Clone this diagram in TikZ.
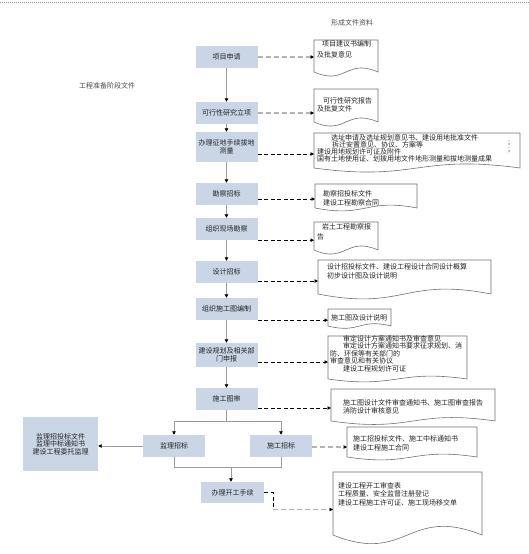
\documentclass[tikz,border=0pt]{standalone}
\usepackage{fontspec}
\setmainfont{Noto Sans CJK SC}
\usetikzlibrary{arrows.meta,calc}
\definecolor{boxfill}{RGB}{202,214,230}
\definecolor{lineg}{RGB}{155,155,155}
\definecolor{dashg}{RGB}{180,180,180}
\definecolor{txt}{RGB}{35,35,35}
\newcommand\fsl[1]{\fontsize{7}{#1}\selectfont}
\newcommand\docshape[6]{%
  \node[docnode, anchor=north west, minimum width={#4-#2}, minimum height={#5-#3}] (#1) at (#2,#3) {};
  \draw[docline] (#1.north west) -- (#1.north east) -- (#1.south east)
    .. controls ($(#1.south)+(0,-#6)$) and ($(#1.south)+(0,#6)$) .. (#1.south west) -- cycle;
}
\tikzset{
  stepbox/.style={fill=boxfill, draw=none, minimum width=62pt, minimum height=22pt, inner sep=0pt, align=center, text=txt, font=\fsl{8}},
  docnode/.style={draw=none, inner sep=0pt, outer sep=0pt},
  docline/.style={draw=black!55, line width=0.6pt},
  textn/.style={anchor=north west, inner sep=0pt, align=left, text=txt},
  lbl/.style={inner sep=0pt, text=black!70, font=\fsl{8}},
  tipb/.style={-{Triangle[length=3.5pt,width=3.5pt,color=black]}},
  solidc/.style={draw=lineg, line width=0.8pt},
  bdash/.style={draw=black, line width=1pt, dash pattern=on 4pt off 2.5pt},
  gdash/.style={draw=dashg, line width=1.4pt, dash pattern=on 5pt off 3pt},
}
\begin{document}
\begin{tikzpicture}[x=1pt,y=-1pt]
\fill[white] (0,0) rectangle (529,554);
\useasboundingbox (0,0) rectangle (529,554);
\draw[black!40, line width=1pt, dash pattern=on 1pt off 1pt] (0,2.5) -- (529,2.5);

\node[lbl] (t1) at (352,23) {形成文件资料};
\node[lbl] (t2) at (107,86) {工程准备阶段文件};

% main boxes
\node[stepbox] (b1) at (226.5,57) {项目申请};
\node[stepbox] (b2) at (226.5,113) {可行性研究立项};
\node[stepbox, minimum height=30pt] (b3) at (226.5,147) {办理征地手续拔地\\测量};
\node[stepbox] (b4) at (226.5,194) {勘察招标};
\node[stepbox] (b5) at (226.5,229) {组织现场勘察};
\node[stepbox] (b6) at (226.5,272) {设计招标};
\node[stepbox] (b7) at (226.5,309) {组织施工图编制};
\node[stepbox, minimum height=24pt] (b8) at (226.5,355) {建设规划及相关部\\门申报};
\node[stepbox] (b9) at (226.5,399) {施工图审};
\node[stepbox] (b10) at (174,446) {监理招标};
\node[stepbox] (b11) at (281,446) {施工招标};
\node[stepbox, minimum width=75pt, minimum height=54pt, font=\fsl{7.6}] (b12) at (60.5,444) {监理招投标文件\\监理中标通知书\\建设工程委托监理};
\node[stepbox, minimum width=63pt, minimum height=21pt] (b13) at (232.5,492.5) {办理开工手续};

% documents
\docshape{d1}{314}{40}{378}{72}{14}
\docshape{d2}{314}{89}{378}{122}{14}
\docshape{d3}{314}{133}{520}{168}{14}
\docshape{d4}{315}{184}{417}{208}{10}
\docshape{d5}{314}{222}{378}{250}{14}
\docshape{d6}{318}{260}{491}{294}{17}
\docshape{d7}{328}{309}{391}{326}{8}
\docshape{d8}{328}{336}{467}{379}{10}
\docshape{d9}{331}{389}{495}{421}{12}
\docshape{d10}{347}{427}{477}{457}{10}
\docshape{d11}{333}{472}{482}{535}{30}

\node[textn, font=\fsl{11}] (dt1) at (317,40) {\hspace*{5pt}项目建议书编制\\及批复意见};
\node[textn, font=\fsl{8}] (dt2) at (317,97) {\hspace*{6pt}可行性研究报告\\及批复文件};
\node[textn, font=\fsl{7}] (dt3) at (317,134) {\hspace*{14pt}选址申请及选址规划意见书、建设用地批准文件\\\hspace*{15pt}拆迁安置意见、协议、方案等\\建设用地规划许可证及附件\\国有土地使用证、划拨用地文件地形测量和拔地测量成果};
\node[textn, font=\fsl{7}] (dt3b) at (508,141) {;\\;};
\node[textn, font=\fsl{9}] (dt4) at (323,190) {勘察招投标文件\\建设工程勘察合同};
\node[textn, font=\fsl{10}] (dt5) at (317,223) {\hspace*{5pt}岩土工程勘察报\\告};
\node[textn, font=\fsl{9}] (dt6) at (327,263) {设计招投标文件、建设工程设计合同设计概算\\初步设计图及设计说明};
\node[textn, font=\fsl{8}] (dt7) at (331,314) {施工图及设计说明};
\node[textn, font=\fsl{7.5}] (dt8) at (330,335) {\hspace*{13pt}审定设计方案通知书及审查意见\\\hspace*{13pt}审定设计方案通知书要求征求规划、消\\防、环保等有关部门的\\审查意见和有关协议\\\hspace*{13pt}建设工程规划许可证};
\node[textn, font=\fsl{8}] (dt9) at (343,399) {施工图设计文件审查通知书、施工图审查报告\\消防设计审核意见};
\node[textn, font=\fsl{9}] (dt10) at (353,435) {施工招投标文件、施工中标通知书\\建设工程施工合同};
\node[textn, font=\fsl{8.5}] (dt11) at (338,482) {建设工程开工审查表\\工程质量、安全监督注册登记\\建设工程施工许可证、施工现场移交单};

% main flow
\draw[solidc, tipb] (b1.south) -- (b2.north);
\draw[solidc, tipb] (b2.south) -- (b3.north);
\draw[solidc, tipb] (b3.south) -- (b4.north);
\draw[solidc, tipb] (b4.south) -- (b5.north);
\draw[solidc, tipb] (b5.south) -- (b6.north);
\draw[solidc, tipb] (b6.south) -- (b7.north);
\draw[solidc, tipb] (b7.south) -- (b8.north);
\draw[solidc, tipb] (b8.south) -- (b9.north);
\coordinate (j1) at (226.5,421);
\coordinate (j2) at (231,467);
\draw[solidc] (b9.south) -- (j1);
\draw[solidc, tipb] (j1) -| (b10.north);
\draw[solidc, tipb] (j1) -| (b11.north);
\draw[solidc] (b10.south) -- (b10.south |- j2) -- (b11.south |- j2) -- (b11.south);
\draw[solidc, tipb] (j2) -- (j2 |- b13.north);
\draw[solidc, tipb] (b10.west) -- (b10.west -| b12.east);

% document connectors
\coordinate (e3) at ($(b3.east)+(0,7)$);
\coordinate (e4) at ($(b4.east)+(0,5)$);
\coordinate (e6) at ($(b6.east)+(0,9)$);
\coordinate (e8) at ($(b8.east)+(0,7)$);
\coordinate (e9) at ($(b9.east)+(0,9)$);
\coordinate (e11) at ($(b11.east)+(0,1)$);
\draw[gdash, tipb] (b1.east) -- (b1.east -| d1.west);
\draw[gdash, tipb] (b2.east) -- (b2.east -| d2.west);
\draw[bdash, tipb] (e3) -- (e3 -| d3.west);
\draw[bdash, tipb] (e4) -- (e4 -| d4.west);
\draw[bdash, tipb] (b5.south east) -- (b5.south east -| d5.west);
\draw[bdash, tipb] (e6) -- (e6 -| d6.west);
\draw[bdash, tipb] (b7.south east) -- (b7.south east -| d7.west);
\draw[bdash, tipb] (e8) -- (e8 -| d8.west);
\draw[bdash, tipb] (e9) -- (e9 -| d9.west);
\draw[gdash, tipb] (e11) -- (e11 -| d10.west);
\draw[bdash] (b13.east) -- ++(9,0) coordinate (k1) -- ++(0,17) coordinate (k2);
\draw[gdash, tipb] (k2) -- (k2 -| d11.west);
\end{tikzpicture}
\end{document}
